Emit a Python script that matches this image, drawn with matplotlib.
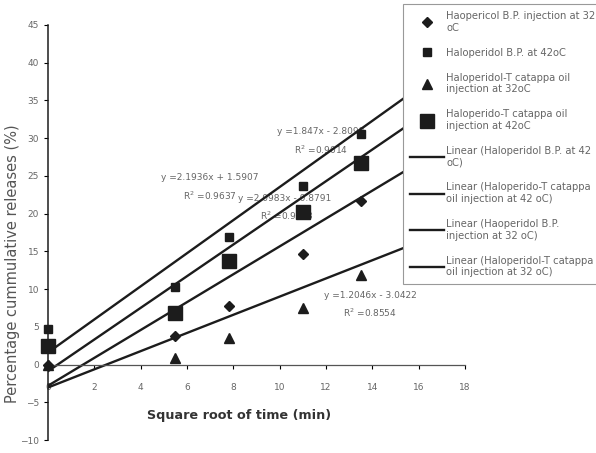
import numpy as np
import matplotlib
matplotlib.use("Agg")
import matplotlib.pyplot as plt

# square root of time (min)
t = [0, 5.5, 7.8, 11.0, 13.5]

bp32 = [0.0, 3.8, 7.7, 14.7, 21.7]        # diamonds
bp42 = [4.7, 10.3, 16.9, 23.7, 30.6]      # small squares
tc32 = [0.0, 0.9, 3.5, 7.5, 11.9]         # triangles
tc42 = [2.5, 6.8, 13.7, 20.2, 26.7]       # big squares

# trendline coefficients (slope, intercept) as printed on chart
fit_bp42 = (2.1936, 1.5907)
fit_tc42 = (2.0983, -0.8791)
fit_bp32 = (1.847, -2.8098)
fit_tc32 = (1.2046, -3.0422)

labels = [
    "Haopericol B.P. injection at 32\noC",
    "Haloperidol B.P. at 42oC",
    "Haloperidol-T catappa oil\ninjection at 32oC",
    "Haloperido-T catappa oil\ninjection at 42oC",
    "Linear (Haloperidol B.P. at 42\noC)",
    "Linear (Haloperido-T catappa\noil injection at 42 oC)",
    "Linear (Haoperidol B.P.\ninjection at 32 oC)",
    "Linear (Haloperidol-T catappa\noil injection at 32 oC)",
]

ink = "#1c1c1c"
grey = "#666666"

fig = plt.figure(figsize=(5.96, 4.53), dpi=100)
ax = fig.add_axes([48/596, 1-440/453, (465-48)/596, (440-25)/453])

xs = np.array([0, 18])
lines = []
for a, b in [fit_bp42, fit_tc42, fit_bp32, fit_tc32]:
    ln, = ax.plot(xs, a*xs + b, color=ink, lw=1.7, zorder=2)
    lines.append(ln)

m1, = ax.plot(t, bp32, "D", color=ink, ms=5, ls="none", zorder=4, clip_on=False)
m2, = ax.plot(t, bp42, "s", color=ink, ms=6, ls="none", zorder=4, clip_on=False)
m3, = ax.plot(t, tc32, "^", color=ink, ms=7, ls="none", zorder=4, clip_on=False)
m4, = ax.plot(t, tc42, "s", color=ink, ms=9.5, ls="none", zorder=4, clip_on=False)

# equation labels
eq = dict(fontsize=6.5, color=grey, ha="center", va="center", zorder=1)
ax.text(11.75, 30.9, "y =1.847x - 2.8098", **eq)
ax.text(11.8, 28.5, "R$^2$ =0.9014", **eq)
ax.text(7.0, 24.8, "y =2.1936x + 1.5907", **eq)
ax.text(7.0, 22.4, "R$^2$ =0.9637", **eq)
ax.text(10.2, 22.0, "y =2.0983x - 0.8791", **eq)
ax.text(10.3, 19.7, "R$^2$ =0.9573", **eq)
ax.text(13.9, 9.1, "y =1.2046x - 3.0422", **eq)
ax.text(13.9, 6.8, "R$^2$ =0.8554", **eq)

ax.set_xlim(0, 18)
ax.set_ylim(-10, 45)
ax.set_xticks(np.arange(0, 19, 2))
ax.set_yticks(np.arange(-10, 46, 5))
ax.spines["top"].set_visible(False)
ax.spines["right"].set_visible(False)
ax.spines["bottom"].set_position(("data", 0))
ax.spines["bottom"].set_color("#555555")
ax.spines["bottom"].set_linewidth(0.9)
ax.spines["left"].set_color(ink)
ax.spines["left"].set_linewidth(1.1)
ax.tick_params(axis="both", labelsize=6.5, labelcolor=grey, length=3, width=0.8)
ax.tick_params(axis="x", pad=10)
ax.patch.set_visible(False)

fig.text(239/596, 1-416/453, "Square root of time (min)", ha="center", va="center",
         fontsize=9.2, color="#333333", fontweight="bold")
fig.text(13/596, 1-264/453, "Percentage cummulative releases (%)", rotation=90,
         ha="center", va="center", fontsize=10.5, color="#555555")

handles = [m1, m2, m3, m4] + lines
leg = fig.legend(handles, labels, loc="upper left",
                 bbox_to_anchor=(403/596, 1-4/453), fontsize=7.2,
                 labelcolor=grey, frameon=True, fancybox=False, framealpha=1,
                 edgecolor="#999999", labelspacing=1.5, handlelength=3.4,
                 handletextpad=0.25, borderpad=0.7, borderaxespad=0)
leg.get_frame().set_linewidth(0.8)

fig.savefig("out.png", dpi=100)
